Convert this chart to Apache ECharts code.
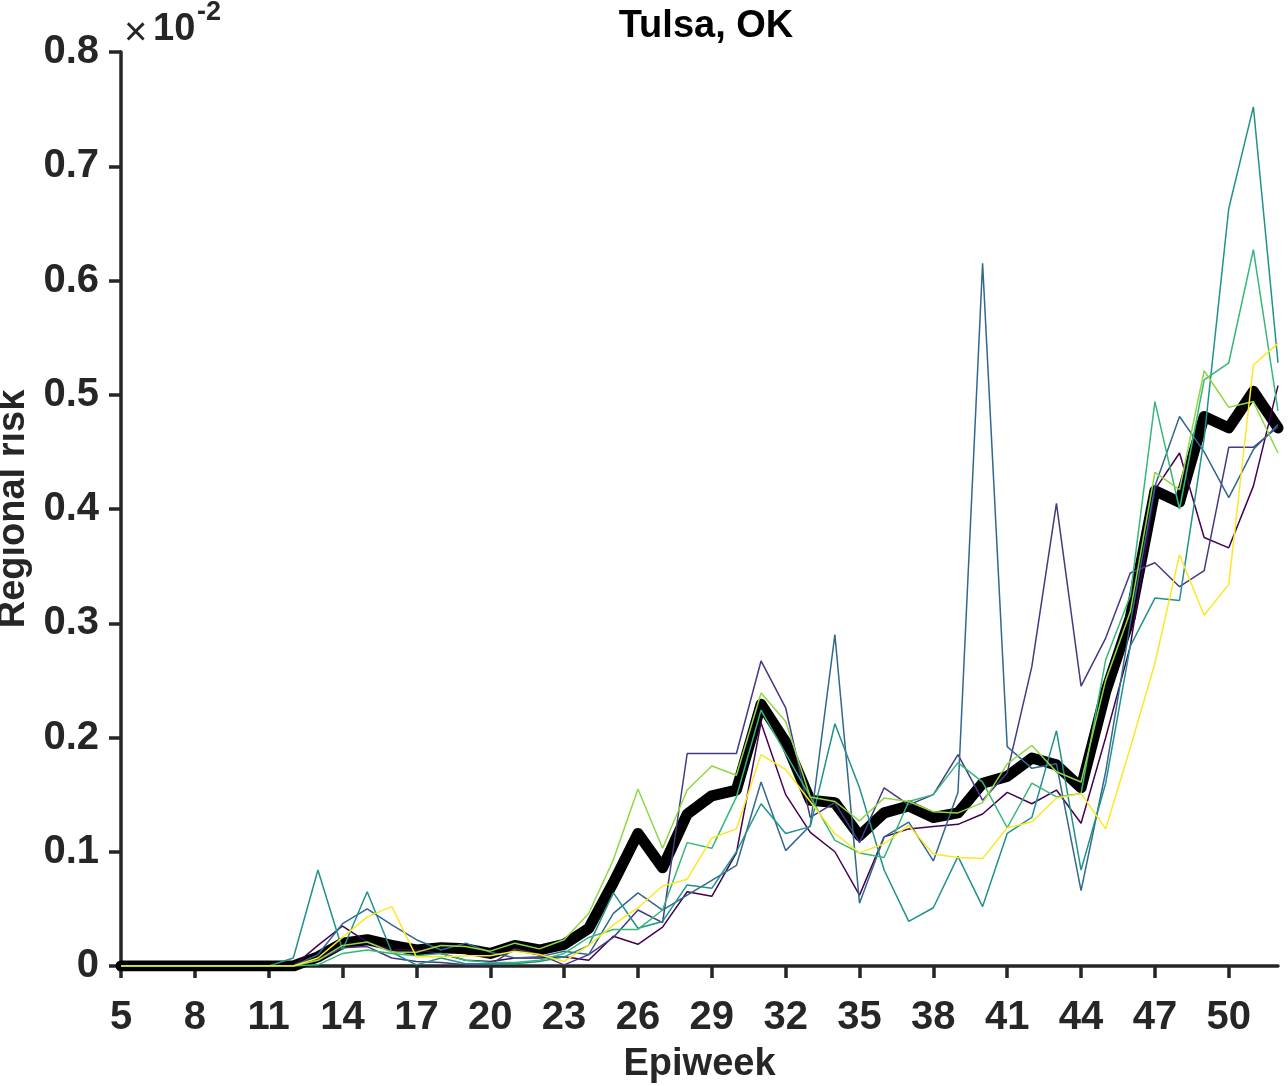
<!DOCTYPE html>
<html>
<head>
<meta charset="utf-8">
<script src="https://cdn.jsdelivr.net/npm/echarts@6/dist/echarts.min.js"></script>
<style>
  html, body { margin: 0; padding: 0; background: #fff; }
  #chart { width: 1288px; height: 1086px; }
</style>
</head>
<body>
<div id="chart"></div>
<script>
// epiweeks on the x axis
const weeks = [5, 6, 7, 8, 9, 10, 11, 12, 13, 14, 15, 16, 17, 18, 19, 20, 21, 22, 23, 24, 25, 26, 27, 28,
  29, 30, 31, 32, 33, 34, 35, 36, 37, 38, 39, 40, 41, 42, 43, 44, 45, 46, 47, 48, 49, 50, 51, 52];
const xTicks = [5, 8, 11, 14, 17, 20, 23, 26, 29, 32, 35, 38, 41, 44, 47, 50];
const yTicks = [0, 0.1, 0.2, 0.3, 0.4, 0.5, 0.6, 0.7, 0.8];

// regional risk (x 1e-2), one array per trajectory
const run1 = [0, 0, 0, 0, 0, 0, 0, 0, 0.018, 0.035, 0.021, 0.014, 0.014, 0.011, 0.005, 0.004, 0.007, 0.007, 0.008, 0.005,
  0.026, 0.019, 0.034, 0.065, 0.061, 0.099, 0.213, 0.15, 0.117, 0.10, 0.062, 0.113, 0.12, 0.122, 0.124, 0.133,
  0.152, 0.142, 0.154, 0.125, 0.20, 0.28, 0.417, 0.449, 0.375, 0.366, 0.42, 0.508];
const run2 = [0, 0, 0, 0, 0, 0, 0, 0, 0.005, 0.016, 0.017, 0.007, 0.004, 0.003, 0.001, 0.001, 0.015, 0.01, 0.001, 0.01,
  0.025, 0.049, 0.038, 0.186, 0.186, 0.186, 0.267, 0.226, 0.13, 0.143, 0.108, 0.156, 0.141, 0.15, 0.185, 0.145,
  0.169, 0.262, 0.405, 0.245, 0.287, 0.344, 0.353, 0.332, 0.346, 0.454, 0.454, 0.472];
const run3 = [0, 0, 0, 0, 0, 0, 0, 0, 0.01, 0.037, 0.05, 0.036, 0.023, 0.014, 0.02, 0.012, 0.007, 0.008, 0.013, 0.01,
  0.046, 0.064, 0.049, 0.062, 0.075, 0.088, 0.161, 0.101, 0.123, 0.29, 0.055, 0.113, 0.126, 0.092, 0.152, 0.615,
  0.192, 0.173, 0.177, 0.066, 0.17, 0.30, 0.42, 0.481, 0.45, 0.41, 0.452, 0.474];
const run4 = [0, 0, 0, 0, 0, 0, 0, 0.007, 0.084, 0.014, 0.065, 0.012, 0.001, 0.007, 0.002, 0.002, 0.002, 0.004, 0.008, 0.018,
  0.064, 0.033, 0.039, 0.071, 0.068, 0.10, 0.142, 0.116, 0.122, 0.212, 0.156, 0.084, 0.039, 0.051, 0.096, 0.052,
  0.116, 0.13, 0.206, 0.084, 0.16, 0.28, 0.322, 0.32, 0.462, 0.663, 0.752, 0.528];
const run5 = [0, 0, 0, 0, 0, 0, 0, 0, 0.001, 0.011, 0.014, 0.011, 0.009, 0.011, 0.005, 0.003, 0.003, 0.005, 0.011, 0.025,
  0.032, 0.032, 0.049, 0.108, 0.103, 0.148, 0.224, 0.186, 0.148, 0.11, 0.099, 0.095, 0.144, 0.15, 0.178, 0.161,
  0.121, 0.16, 0.148, 0.151, 0.268, 0.324, 0.494, 0.40, 0.513, 0.528, 0.627, 0.486];
const run6 = [0, 0, 0, 0, 0, 0, 0, 0, 0.005, 0.018, 0.021, 0.012, 0.012, 0.018, 0.017, 0.013, 0.02, 0.015, 0.023, 0.046,
  0.093, 0.155, 0.103, 0.154, 0.175, 0.167, 0.239, 0.214, 0.148, 0.144, 0.127, 0.147, 0.144, 0.135, 0.134, 0.143,
  0.177, 0.193, 0.17, 0.161, 0.25, 0.31, 0.432, 0.417, 0.521, 0.489, 0.494, 0.449];
const run7 = [0, 0, 0, 0, 0, 0, 0, 0, 0.007, 0.025, 0.043, 0.052, 0.008, 0.008, 0.009, 0.009, 0.013, 0.01, 0.004, 0.018,
  0.036, 0.051, 0.07, 0.076, 0.112, 0.12, 0.185, 0.172, 0.144, 0.116, 0.099, 0.107, 0.123, 0.098, 0.095, 0.094,
  0.121, 0.126, 0.147, 0.151, 0.12, 0.191, 0.265, 0.36, 0.307, 0.334, 0.526, 0.545];
const average = [0, 0, 0, 0, 0, 0, 0, 0, 0.008, 0.02, 0.023, 0.018, 0.014, 0.016, 0.015, 0.011, 0.018, 0.014, 0.019, 0.033,
  0.073, 0.116, 0.086, 0.133, 0.149, 0.154, 0.229, 0.196, 0.145, 0.143, 0.114, 0.134, 0.14, 0.13, 0.134, 0.16,
  0.166, 0.182, 0.176, 0.156, 0.24, 0.305, 0.416, 0.406, 0.481, 0.471, 0.503, 0.471];

const runs = [run1, run2, run3, run4, run5, run6, run7];
const colors = ['#440154', '#443983', '#31688e', '#21918c', '#35b779', '#90d743', '#fde725'];

const pairs = (vals) => weeks.map((w, i) => [w, vals[i]]);
const font = 'Liberation Sans, Arial, Helvetica, sans-serif';
const axisColor = '#262626';

const series = [
  {
    name: 'Mean',
    type: 'line',
    data: pairs(average),
    symbol: 'none',
    lineStyle: { color: '#000', width: 11, join: 'round', cap: 'round' },
    z: 2,
  },
].concat(runs.map((r, i) => ({
  name: 'Run ' + (i + 1),
  type: 'line',
  data: pairs(r),
  symbol: 'none',
  lineStyle: { color: colors[i], width: 1.5 },
  z: 3,
})));

const chart = echarts.init(document.getElementById('chart'));
chart.setOption({
  animation: false,
  backgroundColor: '#fff',
  title: {
    text: 'Tulsa, OK',
    left: 701,
    top: 3,
    textAlign: 'center',
    textStyle: { fontFamily: font, fontWeight: 'bold', fontSize: 38, color: '#000' },
  },
  grid: { left: 121, right: 10, top: 52, bottom: 120, outerBoundsMode: 'none', containLabel: false },
  xAxis: {
    type: 'value',
    min: 5,
    max: 52,
    name: 'Epiweek',
    nameLocation: 'middle',
    nameGap: 80,
    nameTextStyle: { fontFamily: font, fontWeight: 'bold', fontSize: 38, color: axisColor },
    axisLine: { lineStyle: { color: axisColor, width: 3.5 } },
    axisTick: { customValues: xTicks, length: 12, lineStyle: { color: axisColor, width: 3.5 } },
    axisLabel: {
      customValues: xTicks,
      margin: 32,
      fontFamily: font,
      fontWeight: 'bold',
      fontSize: 40,
      color: axisColor,
    },
    splitLine: { show: false },
  },
  yAxis: {
    type: 'value',
    min: 0,
    max: 0.8,
    interval: 0.1,
    name: 'Regional risk',
    nameLocation: 'middle',
    nameGap: 84,
    nameRotate: 90,
    nameTextStyle: { fontFamily: font, fontWeight: 'bold', fontSize: 38, color: axisColor },
    axisLine: { show: true, lineStyle: { color: axisColor, width: 3.5 } },
    axisTick: { show: true, length: 12, lineStyle: { color: axisColor, width: 3.5 } },
    axisLabel: {
      customValues: yTicks,
      margin: 22,
      fontFamily: font,
      fontWeight: 'bold',
      fontSize: 40,
      color: axisColor,
      formatter: (v) => (v === 0 ? '0' : v.toFixed(1)),
    },
    splitLine: { show: false },
  },
  graphic: [
    { type: 'text', x: 124, y: 34, style: { text: '\u00d7', font: '40px ' + font, fill: axisColor, verticalAlign: 'middle' } },
    { type: 'text', x: 153, y: 30, style: { text: '10', font: 'bold 38px ' + font, fill: axisColor, verticalAlign: 'middle' } },
    { type: 'text', x: 197, y: 13, style: { text: '-2', font: 'bold 27px ' + font, fill: axisColor, verticalAlign: 'middle' } },
  ],
  series,
});
</script>
</body>
</html>
